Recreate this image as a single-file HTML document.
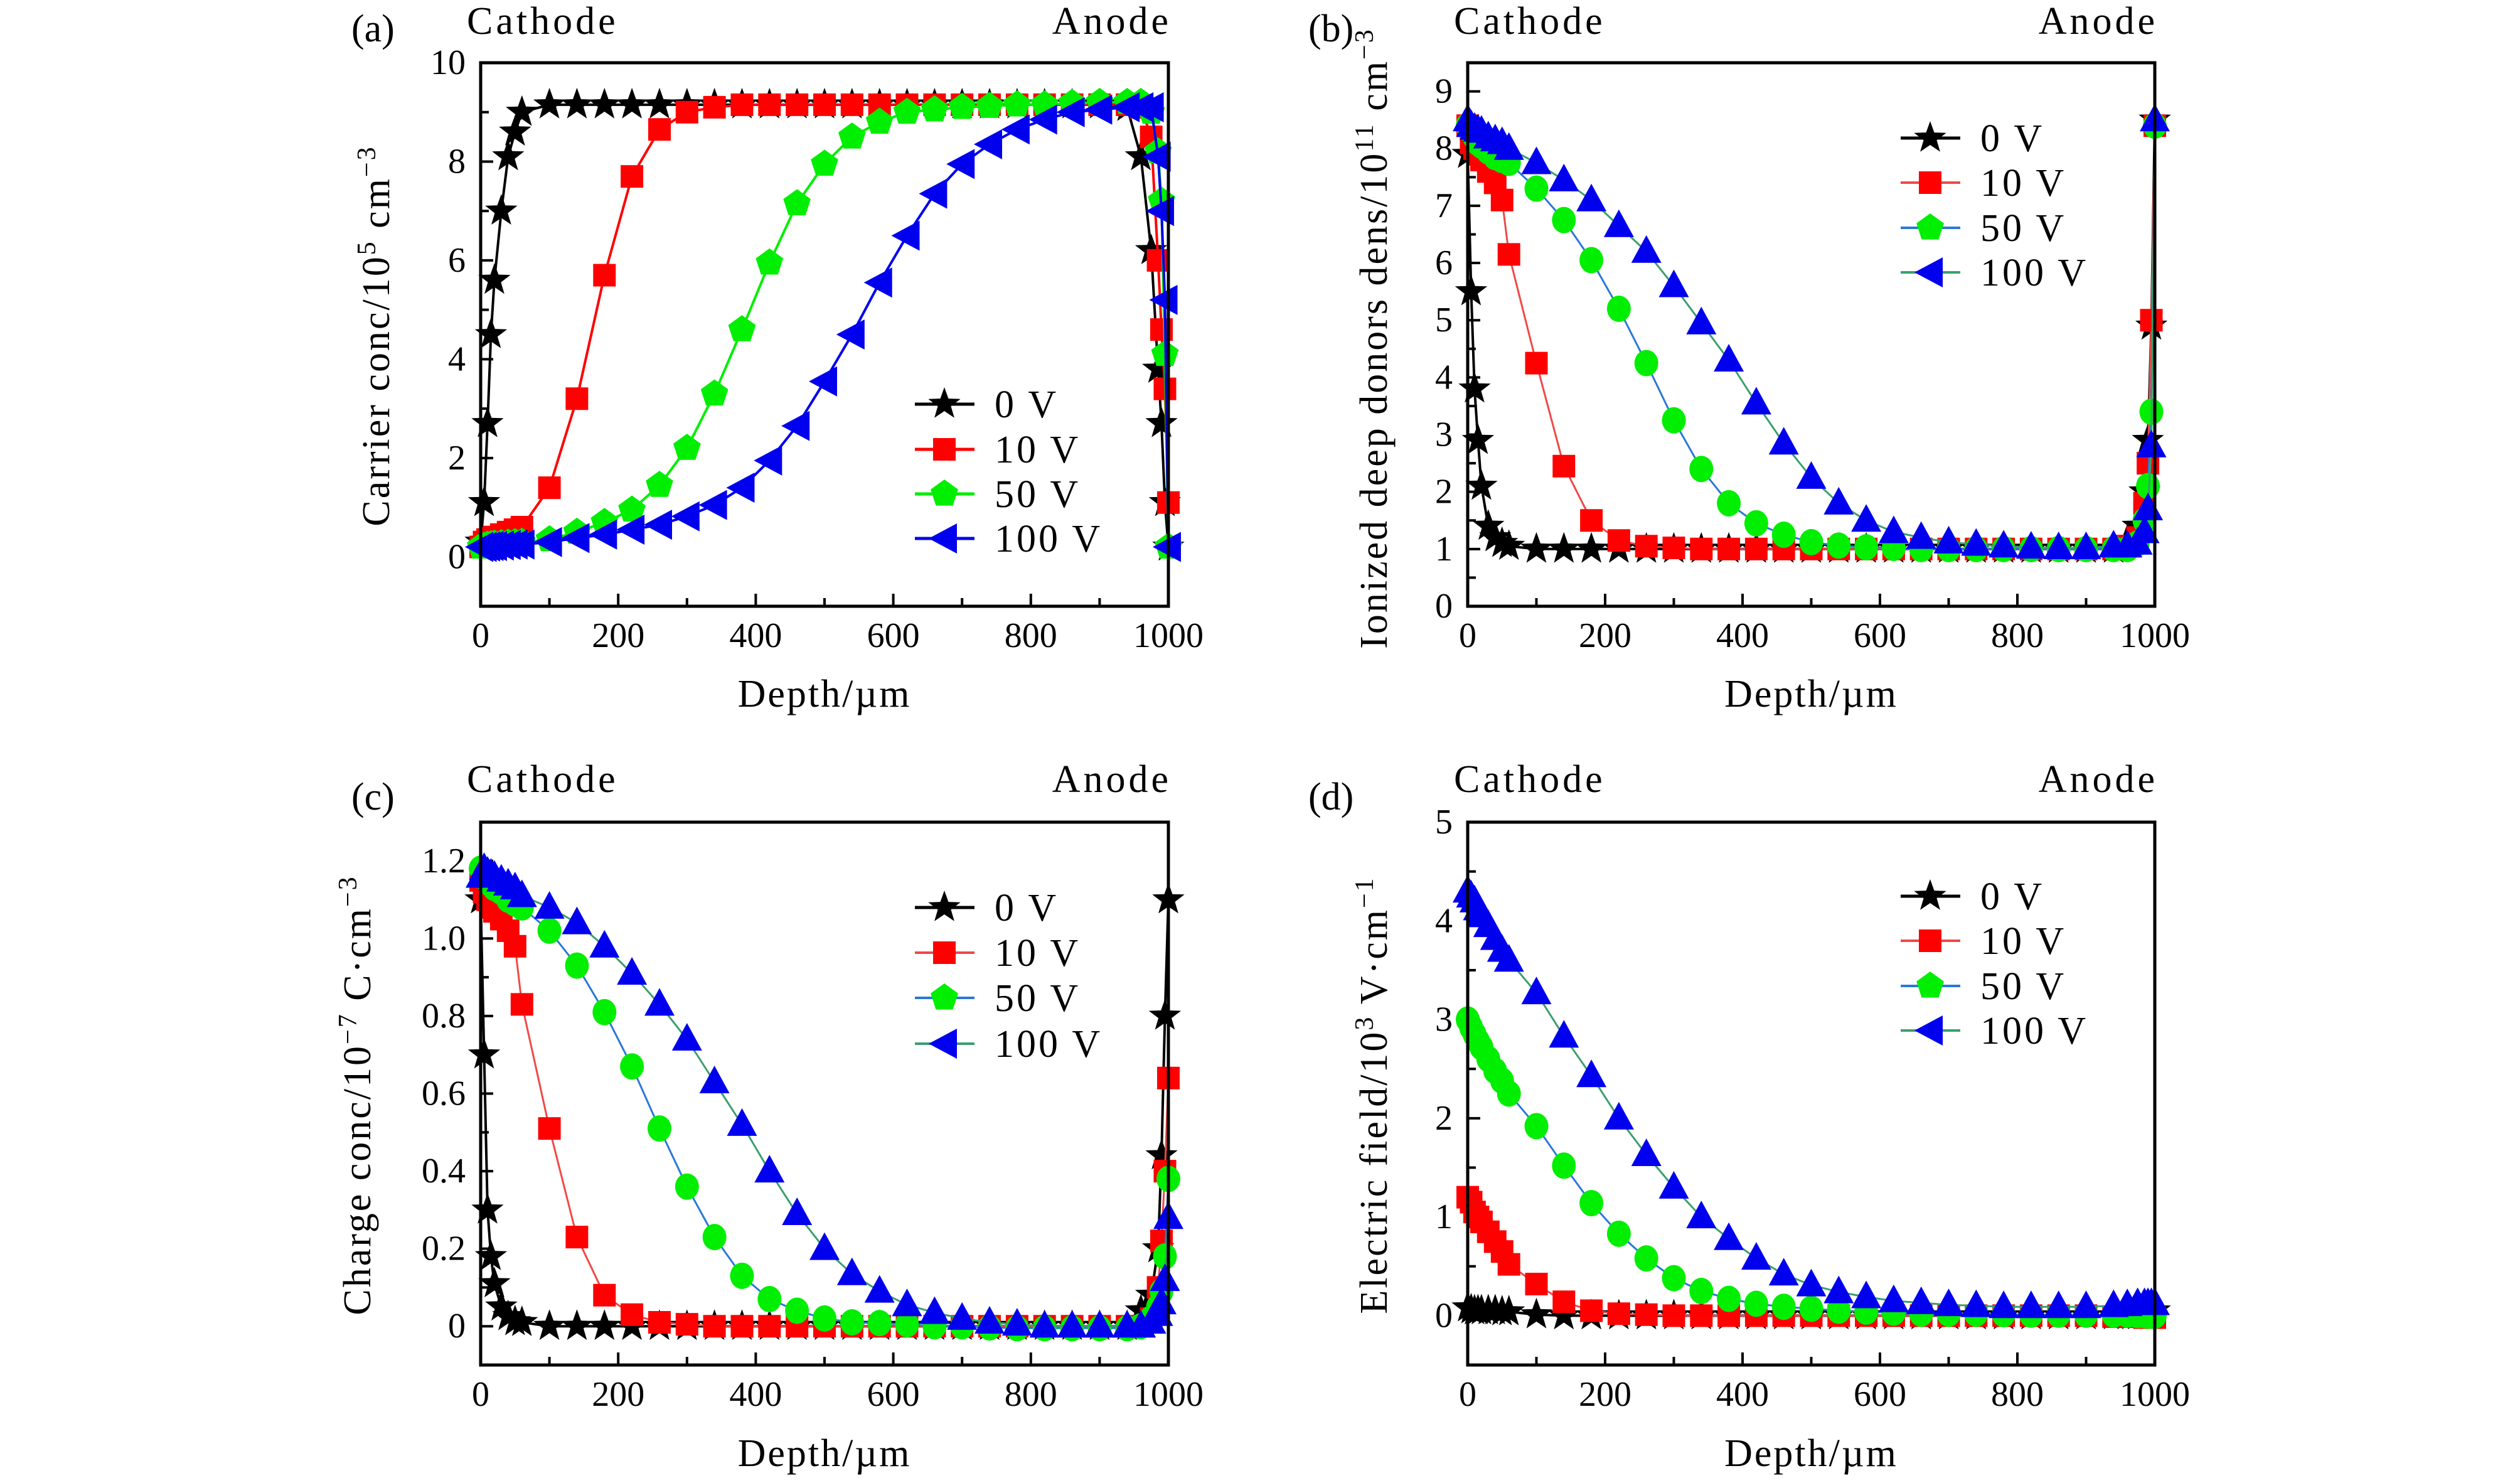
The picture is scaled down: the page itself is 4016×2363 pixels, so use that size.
<!DOCTYPE html>
<html><head><meta charset="utf-8"><style>
html,body{margin:0;padding:0;background:#fff;}
svg{display:block;font-family:"Liberation Serif",serif;}
</style></head><body>
<svg id="fig" xmlns="http://www.w3.org/2000/svg" width="4016" height="2363" viewBox="0 0 4016 2363"></svg>
<script>
const X = [0,5,10,15,20,30,40,50,60,100,140,180,220,260,300,340,380,420,460,500,540,580,620,660,700,740,780,820,860,900,940,960,975,985,990,995,1000];
// (a) carrier conc
const a0 = [0.3,1.1,2.7,4.5,5.6,7.0,8.1,8.6,9.0,9.15,9.15,9.15,9.15,9.15,9.15,9.15,9.15,9.15,9.15,9.15,9.15,9.15,9.15,9.15,9.15,9.15,9.15,9.15,9.15,9.15,9.1,8.1,6.2,3.8,2.7,1.1,0.2];
const a10 = [0.2,0.3,0.35,0.38,0.4,0.45,0.5,0.55,0.6,1.4,3.2,5.7,7.7,8.65,9.0,9.1,9.15,9.15,9.15,9.15,9.15,9.15,9.15,9.15,9.15,9.15,9.15,9.15,9.15,9.15,9.15,9.1,8.5,6.0,4.6,3.4,1.1];
const a50 = [0.2,0.22,0.24,0.25,0.26,0.27,0.28,0.29,0.3,0.35,0.5,0.7,0.95,1.45,2.2,3.3,4.6,5.95,7.15,7.95,8.5,8.8,9.0,9.05,9.1,9.12,9.15,9.15,9.18,9.2,9.2,9.2,9.0,8.2,7.2,4.1,0.2];
const a100 = [0.2,0.2,0.21,0.22,0.22,0.23,0.24,0.25,0.25,0.3,0.38,0.45,0.55,0.65,0.82,1.05,1.4,1.95,2.65,3.55,4.5,5.55,6.5,7.35,7.95,8.35,8.65,8.85,9.0,9.05,9.1,9.1,9.1,8.1,7.0,5.2,0.2];
// (b) ionized deep donors
const b0 = [7.9,5.5,3.8,2.9,2.1,1.4,1.2,1.1,1.05,1.0,1.0,1.0,1.0,1.0,1.0,1.0,1.0,1.0,1.0,1.0,1.0,1.0,1.0,1.0,1.0,1.0,1.0,1.0,1.0,1.0,1.0,1.15,1.4,2.0,2.9,4.9,8.5];
const b10 = [8.4,8.1,8.0,7.9,7.8,7.6,7.4,7.1,6.15,4.25,2.45,1.5,1.15,1.05,1.02,1.0,1.0,1.0,1.0,1.0,1.0,1.0,1.0,1.0,1.0,1.0,1.0,1.0,1.0,1.0,1.0,1.05,1.2,1.8,2.5,5.0,8.4];
const b50 = [8.4,8.3,8.2,8.1,8.05,7.95,7.85,7.8,7.75,7.3,6.75,6.05,5.2,4.25,3.25,2.4,1.8,1.45,1.25,1.12,1.06,1.03,1.02,1.0,1.0,1.0,1.0,1.0,1.0,1.0,1.0,1.0,1.1,1.5,2.1,3.4,8.4];
const b100 = [8.5,8.4,8.35,8.32,8.3,8.2,8.15,8.1,8.0,7.75,7.45,7.1,6.65,6.2,5.6,4.95,4.3,3.55,2.85,2.25,1.8,1.5,1.3,1.2,1.12,1.08,1.05,1.03,1.02,1.02,1.05,1.05,1.1,1.3,1.7,2.8,8.5];
// (c) charge conc
const c0 = [1.1,0.7,0.3,0.18,0.11,0.05,0.025,0.012,0.01,0,0,0,0,0,0,0,0,0,0,0,0,0,0,0,0,0,0,0,0,0,0,0.04,0.08,0.2,0.44,0.8,1.1];
const c10 = [1.15,1.12,1.1,1.08,1.07,1.05,1.02,0.98,0.83,0.51,0.23,0.08,0.03,0.01,0.005,0,0,0,0,0,0,0,0,0,0,0,0,0,0,0,0,0,0.02,0.1,0.22,0.4,0.64];
const c50 = [1.18,1.16,1.15,1.14,1.13,1.12,1.1,1.09,1.08,1.02,0.93,0.81,0.67,0.51,0.36,0.23,0.13,0.07,0.04,0.02,0.01,0.008,0.005,0,0,-0.003,-0.005,-0.005,-0.005,-0.005,-0.005,0,0.02,0.05,0.09,0.18,0.38];
const c100 = [1.16,1.18,1.17,1.165,1.16,1.15,1.14,1.13,1.11,1.08,1.04,0.98,0.91,0.83,0.74,0.63,0.52,0.4,0.29,0.2,0.135,0.09,0.055,0.035,0.02,0.01,0.005,0,0,0,0,0,0.01,0.03,0.06,0.12,0.28];
// (d) electric field
const d0 = [0.08,0.06,0.05,0.05,0.05,0.05,0.05,0.04,0.04,0.01,0,0,0,0,0,0,0,0,0,0,0,0,0,0,0,0,0,0,0,0,0,0,0,0.01,0.02,0.04,0.05];
const d10 = [1.2,1.15,1.05,1.0,0.95,0.85,0.75,0.65,0.52,0.32,0.14,0.05,0.02,0.01,0,0,0,0,0,0,0,0,0,0,0,0,0,0,0,0,-0.01,-0.01,-0.01,-0.02,-0.02,-0.02,-0.02];
const d50 = [3.0,2.92,2.85,2.78,2.72,2.6,2.48,2.38,2.25,1.92,1.52,1.14,0.83,0.58,0.38,0.25,0.17,0.12,0.09,0.07,0.05,0.04,0.03,0.02,0.02,0.02,0.015,0.01,0.01,0.01,0.01,0.01,0.005,0.005,0,0,0];
const d100 = [4.3,4.25,4.2,4.12,4.05,3.95,3.82,3.7,3.6,3.27,2.83,2.43,2.0,1.63,1.3,1.0,0.78,0.58,0.42,0.31,0.24,0.19,0.15,0.13,0.11,0.1,0.09,0.09,0.09,0.09,0.1,0.11,0.12,0.12,0.12,0.12,0.12];
const xTicks = [0,200,400,600,800,1000];
const aTicks = [0,2,4,6,8,10];
const bTicks = [0,1,2,3,4,5,6,7,8,9];
const cTicks = [0,0.2,0.4,0.6,0.8,1.0,1.2];
const cTickLabels = ["0","0.2","0.4","0.6","0.8","1.0","1.2"];
const dTicks = [0,1,2,3,4,5];
const legendLabels = ["0 V","10 V","50 V","100 V"];

const NS="http://www.w3.org/2000/svg";
const svg=document.getElementById('fig');
function mk(tag,attrs,parent){const e=document.createElementNS(NS,tag);for(const k in attrs)e.setAttribute(k,attrs[k]);(parent||svg).appendChild(e);return e;}

function markerPath(shape,cx,cy){
  let pts=[];
  if(shape==='star'){const R=27,r=11;for(let i=0;i<10;i++){const a=-Math.PI/2+i*Math.PI/5;const rr=i%2?r:R;pts.push([cx+rr*Math.cos(a),cy+rr*Math.sin(a)]);}}
  else if(shape==='square'){const s=18;pts=[[cx-s,cy-s],[cx+s,cy-s],[cx+s,cy+s],[cx-s,cy+s]];}
  else if(shape==='pent'){const R=23;for(let i=0;i<5;i++){const a=-Math.PI/2+i*2*Math.PI/5;pts.push([cx+R*Math.cos(a),cy+R*Math.sin(a)]);}}
  else if(shape==='ltri'){pts=[[cx-25,cy],[cx+20,cy-24],[cx+20,cy+24]];}
  else if(shape==='utri'){pts=[[cx,cy-26],[cx+24,cy+18],[cx-24,cy+18]];}
  return 'M'+pts.map(p=>p[0].toFixed(1)+','+p[1].toFixed(1)).join('L')+'Z';
}
function drawMarker(g,shape,cx,cy,fill){
  if(shape==='circle'){const e=mk('ellipse',{cx:cx,cy:cy,rx:19,ry:21,fill:fill},g);return e;}
  return mk('path',{d:markerPath(shape,cx,cy),fill:fill},g);
}

function panel(cfg){
  const g=mk('g',{});
  
  
  const {L,R,T,B,ymin,ymax}=cfg;
  const sx=v=>L+(v-0)/(1000-0)*(R-L);
  const sy=v=>B-(v-ymin)/(ymax-ymin)*(B-T);
  const tg=mk('g',{},g);
  
  
  for(let v=100;v<1000;v+=100){const x=sx(v);const len=(v%200===0)?20:13;mk('line',{x1:x,y1:B,x2:x,y2:B-len,stroke:'#000','stroke-width':4},tg);}
  cfg.yTicks.forEach((v,i)=>{const y=sy(v);mk('line',{x1:L,y1:y,x2:L+20,y2:y,stroke:'#000','stroke-width':4},tg);
    const t=mk('text',{x:L-24,y:y+18,'font-size':56,'text-anchor':'end'},tg);t.textContent=cfg.yLabels?cfg.yLabels[i]:String(v);
    
    if(i<cfg.yTicks.length-1){const m=sy((v+cfg.yTicks[i+1])/2);mk('line',{x1:L,y1:m,x2:L+13,y2:m,stroke:'#000','stroke-width':4},tg);}
  });
  xTicks.forEach(v=>{const t=mk('text',{x:sx(v),y:cfg.xlabY,'font-size':56,'text-anchor':'middle'},tg);t.textContent=String(v);
    });
  cfg.series.forEach((s,si)=>{
    const sg=mk('g',{},g);
    
    
    const d='M'+X.map((x,i)=>sx(x).toFixed(1)+','+sy(s.v[i]).toFixed(1)).join('L');
    mk('path',{d:d,fill:'none',stroke:s.line,'stroke-width':s.lw,'stroke-linejoin':'round'},sg);
    X.forEach((x,i)=>{const m=drawMarker(sg,s.shape,sx(x),sy(s.v[i]),s.fill);
      });
  });
  const fr=mk('rect',{x:L,y:T,width:R-L,height:B-T,fill:'none',stroke:'#000','stroke-width':5},g);
  
  const lg=mk('g',{},g);
  
  
  cfg.series.forEach((s,i)=>{
    const y=cfg.legY[i];const e=mk('g',{},lg);
    
    mk('line',{x1:cfg.legX,y1:y,x2:cfg.legX+95,y2:y,stroke:s.line,'stroke-width':s.lw+1},e);
    drawMarker(e,s.legShape||s.shape,cfg.legX+47,y,s.fill);
    const t=mk('text',{x:cfg.legX+127,y:y+21,'font-size':62,'letter-spacing':4},e);t.textContent=legendLabels[i];
  });
  const yl=mk('text',{x:0,y:0,'font-size':62,'letter-spacing':3,'text-anchor':'middle',transform:`translate(${cfg.ylabX},${cfg.ylabY}) rotate(-90)`},g);
  
  yl.innerHTML=cfg.ytitle;
  const xl=mk('text',{x:(L+R)/2,y:cfg.depthY,'font-size':62,'letter-spacing':3,'text-anchor':'middle'},g);
  
  xl.textContent='Depth/\u00b5m';
  const ca=mk('text',{x:L-22,y:cfg.catY,'font-size':62,'letter-spacing':5},g);ca.textContent='Cathode';
  
  const an=mk('text',{x:R+5,y:cfg.catY,'font-size':62,'letter-spacing':5,'text-anchor':'end'},g);an.textContent='Anode';
  
  const pl=mk('text',{x:cfg.plX,y:cfg.plY,'font-size':62},g);pl.textContent='('+cfg.id+')';
  
}

const top4a=[
 {v:a0,shape:'star',fill:'#000',line:'#000',lw:4},
 {v:a10,shape:'square',fill:'#ff0000',line:'#ff0000',lw:4},
 {v:a50,shape:'pent',fill:'#00ee00',line:'#00ee00',lw:4},
 {v:a100,shape:'ltri',fill:'#0000ee',line:'#0000ee',lw:4}];
function seriesBD(v0,v10,v50,v100){return [
 {v:v0,shape:'star',fill:'#000',line:'#000',lw:4},
 {v:v10,shape:'square',fill:'#ff0000',line:'#f04848',lw:3},
 {v:v50,shape:'circle',legShape:'pent',fill:'#00ee00',line:'#2a78d8',lw:3},
 {v:v100,shape:'utri',legShape:'ltri',fill:'#0000ee',line:'#3a9f6e',lw:3}];}

panel({id:'a',name:'panel-a-carrier-conc',L:766,R:1862,T:100,B:966,ymin:-1,ymax:10,yTicks:aTicks,
  series:top4a,legX:1458,legY:[644,716,787,858],ylabX:620,ylabY:535,
  ytitle:'Carrier conc/10<tspan font-size="42" dy="-22">5</tspan><tspan dy="22"> cm</tspan><tspan font-size="42" dy="-22">\u22123</tspan>',
  xlabY:1031,depthY:1126,catY:54,plX:560,plY:66});
panel({id:'b',name:'panel-b-ionized-donors',L:2339,R:3434,T:100,B:966,ymin:0,ymax:9.5,yTicks:bTicks,
  series:seriesBD(b0,b10,b50,b100),legX:3029,legY:[220,291,363,434],ylabX:2210,ylabY:539,
  ytitle:'Ionized deep donors dens/10<tspan font-size="42" dy="-22">11</tspan><tspan dy="22"> cm</tspan><tspan font-size="42" dy="-22">\u22123</tspan>',
  xlabY:1031,depthY:1126,catY:54,plX:2085,plY:66});
panel({id:'c',name:'panel-c-charge-conc',L:766,R:1862,T:1310,B:2175,ymin:-0.1,ymax:1.3,yTicks:cTicks,yLabels:cTickLabels,
  series:seriesBD(c0,c10,c50,c100),legX:1458,legY:[1446,1518,1590,1663],ylabX:590,ylabY:1745,
  ytitle:'Charge conc/10<tspan font-size="42" dy="-22">\u22127</tspan><tspan dy="22"> C\u00b7cm</tspan><tspan font-size="42" dy="-22">\u22123</tspan>',
  xlabY:2240,depthY:2336,catY:1262,plX:560,plY:1290});
panel({id:'d',name:'panel-d-electric-field',L:2339,R:3434,T:1310,B:2175,ymin:-0.5,ymax:5,yTicks:dTicks,
  series:seriesBD(d0,d10,d50,d100),legX:3029,legY:[1428,1499,1571,1642],ylabX:2210,ylabY:1745,
  ytitle:'Electric field/10<tspan font-size="42" dy="-22">3</tspan><tspan dy="22"> V\u00b7cm</tspan><tspan font-size="42" dy="-22">\u22121</tspan>',
  xlabY:2240,depthY:2336,catY:1262,plX:2085,plY:1290});
</script>
</body></html>
